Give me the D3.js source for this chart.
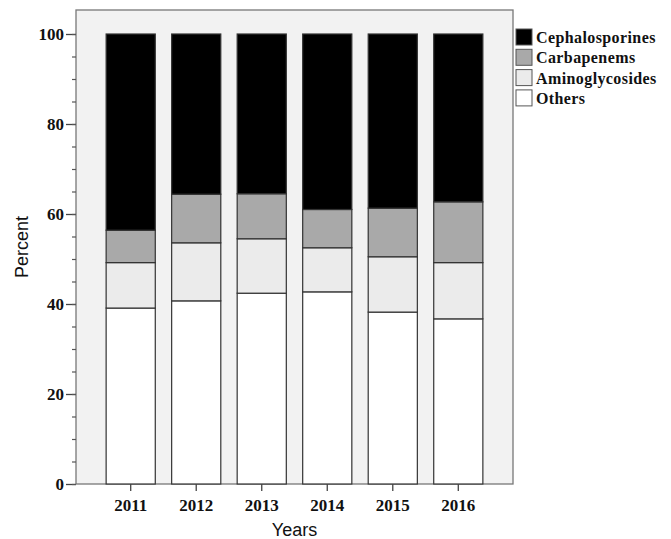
<!DOCTYPE html>
<html>
<head>
<meta charset="utf-8">
<script src="https://cdn.jsdelivr.net/npm/d3@7"></script>
<style>
body { margin: 0; background: #fff; }
</style>
</head>
<body>
<div id="canvas"></div>
<script>
// DATA -----------------------------------------------------
var years = ["2011", "2012", "2013", "2014", "2015", "2016"];
var classes = ["Others", "Aminoglycosides", "Carbapenems", "Cephalosporines"];
var others = [39.1, 40.7, 42.4, 42.7, 38.2, 36.7];
var aminoglycosides = [10.1, 12.9, 12.1, 9.8, 12.3, 12.5];
var carbapenems = [7.2, 10.8, 10.0, 8.5, 10.8, 13.5];
var cephalosporines = [43.6, 35.6, 35.5, 39.0, 38.7, 37.3];
var yTicks = [0, 20, 40, 60, 80, 100];
var colors = ["#ffffff", "#ebebeb", "#a9a9a9", "#000000"];
var legendOrder = ["Cephalosporines", "Carbapenems", "Aminoglycosides", "Others"];

// build rows for the stack
var rows = years.map((y, i) => ({
  year: y,
  Others: others[i],
  Aminoglycosides: aminoglycosides[i],
  Carbapenems: carbapenems[i],
  Cephalosporines: cephalosporines[i]
}));

// STRUCTURE ------------------------------------------------
var W = 671, H = 539;
var plot = { left: 76, right: 513, top: 10, bottom: 484 };
var serif = "Liberation Serif, Times New Roman, serif";
var sans = "Liberation Sans, Arial, sans-serif";

var svg = d3.select("#canvas").append("svg")
  .attr("width", W)
  .attr("height", H);

var yScale = d3.scaleLinear()
  .domain([0, 100])
  .range([plot.bottom, plot.bottom - 450]);

var xScale = d3.scaleBand()
  .domain(years)
  .range([plot.left, plot.right])
  .paddingInner(0.25)
  .paddingOuter(0.46);

var colorScale = d3.scaleOrdinal()
  .domain(classes)
  .range(colors);

// plot background
svg.append("rect")
  .attr("x", plot.left)
  .attr("y", plot.top)
  .attr("width", plot.right - plot.left)
  .attr("height", plot.bottom - plot.top)
  .attr("fill", "#f2f2f2")
  .attr("stroke", "#777")
  .attr("stroke-width", 1.3);

// BARS -----------------------------------------------------
var series = d3.stack().keys(classes)(rows);

svg.append("g").selectAll("g")
  .data(series)
  .enter()
  .append("g")
  .attr("fill", (d) => colorScale(d.key))
  .selectAll("rect")
  .data((d) => d)
  .enter()
  .append("rect")
  .attr("x", (d) => xScale(d.data.year))
  .attr("y", (d) => yScale(d[1]))
  .attr("width", xScale.bandwidth())
  .attr("height", (d) => yScale(d[0]) - yScale(d[1]))
  .attr("stroke", "#333")
  .attr("stroke-width", 1.2);

// AXES -----------------------------------------------------
// left, major
var yAxis = svg.append("g")
  .attr("transform", `translate(${plot.left}, 0)`)
  .call(d3.axisLeft(yScale).tickValues(yTicks).tickSize(10).tickSizeOuter(0).tickPadding(2));
yAxis.select(".domain").remove();
yAxis.selectAll("line").attr("stroke", "#444").attr("stroke-width", 1.3);
yAxis.selectAll("text")
  .attr("font-family", serif)
  .attr("font-size", 17)
  .attr("font-weight", "bold")
  .attr("fill", "#111");

// left, minor
var yMinor = svg.append("g")
  .attr("transform", `translate(${plot.left}, 0)`)
  .call(d3.axisLeft(yScale).ticks(20).tickSize(4).tickFormat(""));
yMinor.select(".domain").remove();
yMinor.selectAll("line").attr("stroke", "#555").attr("stroke-width", 1.2);

// bottom
var xAxis = svg.append("g")
  .attr("transform", `translate(0, ${plot.bottom})`)
  .call(d3.axisBottom(xScale).tickSize(7).tickSizeOuter(0).tickPadding(8));
xAxis.select(".domain").remove();
xAxis.selectAll("line").attr("stroke", "#444").attr("stroke-width", 1.3);
xAxis.selectAll("text")
  .attr("font-family", serif)
  .attr("font-size", 17)
  .attr("font-weight", "bold")
  .attr("fill", "#111");

// axis titles
svg.append("text")
  .attr("x", (plot.left + plot.right) / 2)
  .attr("y", 536)
  .attr("text-anchor", "middle")
  .attr("font-family", sans)
  .attr("font-size", 18)
  .attr("fill", "#111")
  .text("Years");

svg.append("text")
  .attr("transform", `translate(28, ${(plot.top + plot.bottom) / 2}) rotate(-90)`)
  .attr("text-anchor", "middle")
  .attr("font-family", sans)
  .attr("font-size", 18)
  .attr("fill", "#111")
  .text("Percent");

// LEGEND ---------------------------------------------------
var legend = svg.append("g")
  .attr("transform", "translate(516, 29)");

var items = legend.selectAll("g")
  .data(legendOrder)
  .enter()
  .append("g")
  .attr("transform", (d, i) => `translate(0, ${i * 20.3})`);

items.append("rect")
  .attr("width", 16)
  .attr("height", 16)
  .attr("fill", (d) => colorScale(d))
  .attr("stroke", "#555")
  .attr("stroke-width", 1);

items.append("text")
  .attr("x", 20)
  .attr("y", 14)
  .attr("font-family", serif)
  .attr("font-size", 16)
  .attr("font-weight", "bold")
  .attr("letter-spacing", 0.4)
  .attr("fill", "#111")
  .text((d) => d);
</script>
</body>
</html>
